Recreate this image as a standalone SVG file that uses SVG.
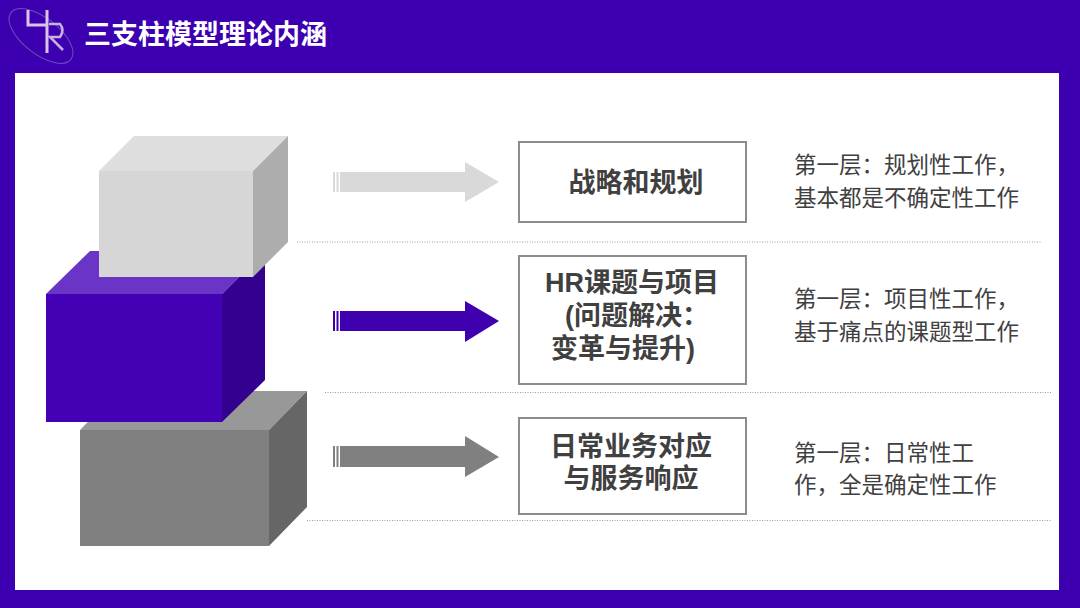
<svg xmlns="http://www.w3.org/2000/svg" width="1080" height="608" viewBox="0 0 1080 608">
<style>
.cjk{font-family:"Liberation Sans","Noto Sans CJK SC",sans-serif}
.box{fill:#fff;stroke:#8c8c8c;stroke-width:2}
.lbl{font-size:27px;font-weight:700;fill:#404040;text-anchor:middle}
.desc{font-size:22.500px;fill:#404040}
.sep{stroke:#8f9dad;stroke-width:1;stroke-dasharray:1 1.500;fill:none}
</style>
<rect width="1080" height="608" fill="#3d00b0"/>
<rect x="15" y="73" width="1044" height="517" fill="#fff"/>
<g id="logo" fill="none">
<ellipse cx="41" cy="36" rx="38" ry="18" transform="rotate(38 41 36)" stroke="#6a4cc0" stroke-width="1"/>
<path d="M28 10V25H48M47 10V53" stroke="#d9c4e8" stroke-width="3"/>
<path d="M49 24H60Q65 30 60 37H50L63 50" stroke="#c9b0e0" stroke-width="2.500"/>
</g>
<text class="cjk" x="84" y="44" font-size="27" font-weight="700" fill="#fff">三支柱模型理论内涵</text>
<g id="block-bottom">
<path d="M80 430L118 391H307L269 430Z" fill="#989898"/>
<path d="M269 430L307 391V507L269 546Z" fill="#666"/>
<rect x="80" y="430" width="189" height="116" fill="#808080"/>
</g>
<g id="block-middle">
<path d="M46 294L90 251H265L222 294Z" fill="#6a35c6"/>
<path d="M222 294L265 251V380L222 422Z" fill="#33008f"/>
<rect x="46" y="294" width="176" height="128" fill="#4300b4"/>
</g>
<g id="block-top">
<path d="M99 171L134 136H288L253 171Z" fill="#dedede"/>
<path d="M253 171L288 136V242L253 277Z" fill="#adadad"/>
<rect x="99" y="171" width="154" height="106" fill="#d6d6d6"/>
</g>
<g id="connectors">
<g fill="#d9d9d9"><path d="M340 172H465V162L499 182L465 202V192H340Z"/><rect x="333" y="172" width="2" height="20"/><rect x="336.500" y="172" width="2" height="20"/></g>
<g fill="#3f00b0"><path d="M340 311H465V301L499 321L465 342V331H340Z"/><rect x="333" y="311" width="2" height="20"/><rect x="336.500" y="311" width="2" height="20"/></g>
<g fill="#808080"><path d="M340 446H465V436L499 457L465 477V467H340Z"/><rect x="333" y="446" width="2" height="21"/><rect x="336.500" y="446" width="2" height="21"/></g>
<path class="sep" d="M297 242H1042M325 392.500H1052M307 520.500H1052"/>
</g>
<g id="node-strategy">
<rect class="box" x="519" y="142" width="227" height="80"/>
<text class="cjk lbl" x="636" y="192">战略和规划</text>
</g>
<g id="node-projects">
<rect class="box" x="519" y="256" width="227" height="128"/>
<text class="cjk lbl" x="632" y="292">HR课题与项目</text>
<text class="cjk lbl" x="637" y="325">(问题解决：</text>
<text class="cjk lbl" x="623" y="358">变革与提升)</text>
</g>
<g id="node-daily">
<rect class="box" x="519" y="418" width="227" height="96"/>
<text class="cjk lbl" x="631" y="456">日常业务对应</text>
<text class="cjk lbl" x="631" y="488">与服务响应</text>
</g>
<g id="desc-1" class="cjk desc"><text x="794" y="173">第一层：规划性工作，</text><text x="794" y="206">基本都是不确定性工作</text></g>
<g id="desc-2" class="cjk desc"><text x="794" y="307">第一层：项目性工作，</text><text x="794" y="340">基于痛点的课题型工作</text></g>
<g id="desc-3" class="cjk desc"><text x="794" y="461">第一层：日常性工</text><text x="794" y="493">作，全是确定性工作</text></g>
</svg>
